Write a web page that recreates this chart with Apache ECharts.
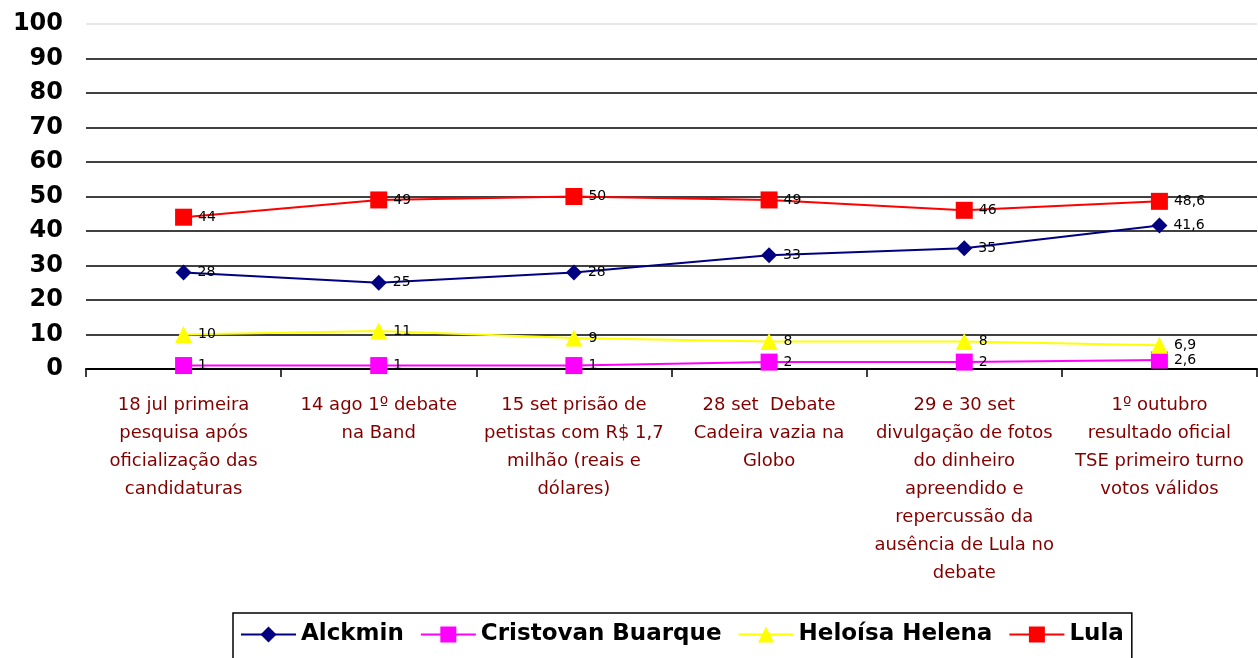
<!DOCTYPE html>
<html>
<head>
<meta charset="utf-8">
<script src="https://cdn.jsdelivr.net/npm/echarts@6/dist/echarts.min.js"></script>
<style>
  html, body { margin: 0; padding: 0; background: #fff; }
  #chart { width: 1258px; height: 658px; }
</style>
</head>
<body>
<div id="chart"></div>
<script>
// eventos (categorias do eixo x)
var categorias = [
  '18 jul primeira\npesquisa após\noficialização das\ncandidaturas',
  '14 ago 1º debate\nna Band',
  '15 set prisão de\npetistas com R$ 1,7\nmilhão (reais e\ndólares)',
  '28 set  Debate\nCadeira vazia na\nGlobo',
  '29 e 30 set\ndivulgação de fotos\ndo dinheiro\napreendido e\nrepercussão da\nausência de Lula no\ndebate',
  '1º outubro\nresultado oficial\nTSE primeiro turno\nvotos válidos'
];
var alckmin = [28, 25, 28, 33, 35, 41.6];
var cristovam = [1, 1, 1, 2, 2, 2.6];
var heloisa = [10, 11, 9, 8, 8, 6.9];
var lula = [44, 49, 50, 49, 46, 48.6];

var myChart = echarts.init(document.getElementById('chart'));

// rótulo de valor com vírgula decimal
function rotulo() {
  return {
    show: true,
    position: 'right',
    distance: 6,
    color: '#000',
    fontFamily: 'DejaVu Sans',
    fontSize: 14,
    formatter: function (p) { return String(p.value).replace('.', ','); }
  };
}

function serie(nome, dados, cor, simbolo, tamanho) {
  return {
    name: nome,
    type: 'line',
    data: dados,
    symbol: simbolo,
    symbolSize: tamanho,
    color: cor,
    lineStyle: { color: cor, width: 2 },
    itemStyle: { color: cor },
    label: rotulo(),
    animation: false
  };
}

var option = {
  animation: false,
  textStyle: { fontFamily: 'DejaVu Sans' },
  grid: { left: 86, right: 1, top: 24, bottom: 289, containLabel: false },
  xAxis: {
    type: 'category',
    data: categorias,
    boundaryGap: true,
    axisLine: { lineStyle: { color: '#000', width: 2 } },
    axisTick: { show: true, length: 8, lineStyle: { color: '#000', width: 1.5 } },
    axisLabel: {
      interval: 0,
      margin: 22,
      color: '#800000',
      fontFamily: 'DejaVu Sans',
      fontSize: 18,
      lineHeight: 28,
      align: 'center'
    }
  },
  yAxis: {
    type: 'value',
    min: 0,
    max: 100,
    interval: 10,
    axisLine: { show: false },
    axisTick: { show: false },
    axisLabel: {
      margin: 23,
      color: '#000',
      fontFamily: 'DejaVu Sans',
      fontWeight: 'bold',
      fontSize: 24
    },
    splitLine: {
      lineStyle: {
        color: ['#000', '#000', '#000', '#000', '#000', '#000', '#000', '#000', '#000', '#000', '#e0e0e0'],
        width: 1.5
      }
    }
  },
  legend: {
    left: 233,
    top: 613,
    padding: [10, 8, 30, 7],
    borderColor: '#000',
    borderWidth: 1.5,
    itemWidth: 55,
    itemHeight: 20,
    itemGap: 16,
    textStyle: {
      color: '#000',
      fontFamily: 'DejaVu Sans',
      fontWeight: 'bold',
      fontSize: 23
    },
    data: ['Alckmin', 'Cristovan Buarque', 'Heloísa Helena', 'Lula']
  },
  series: [
    serie('Alckmin', alckmin, '#000080', 'diamond', 16),
    serie('Cristovan Buarque', cristovam, '#ff00ff', 'rect', 17),
    serie('Heloísa Helena', heloisa, '#ffff00', 'triangle', 17),
    serie('Lula', lula, '#ff0000', 'rect', 17)
  ]
};

myChart.setOption(option);
</script>
</body>
</html>
